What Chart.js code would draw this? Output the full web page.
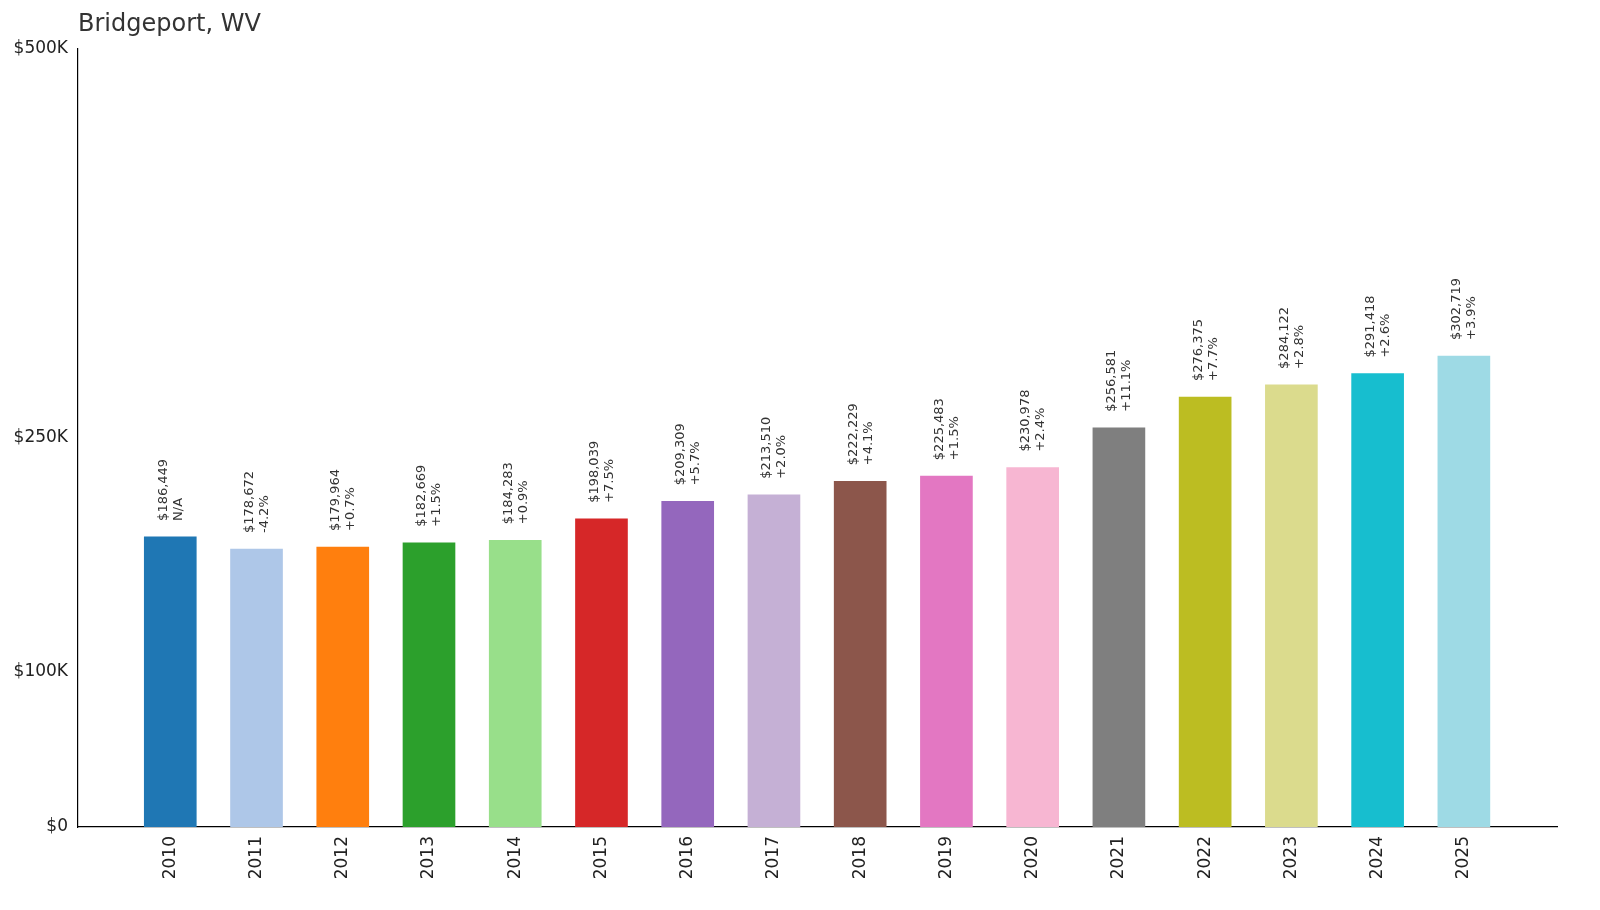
<!DOCTYPE html>
<html><head><meta charset="utf-8">
<script src="https://cdn.jsdelivr.net/npm/chart.js@4"></script>
<style>html,body{margin:0;padding:0;background:#fff}#w{width:1600px;height:910px}</style>
</head><body><div id="w"><canvas id="c"></canvas></div>
<script>
const years=[2010,2011,2012,2013,2014,2015,2016,2017,2018,2019,2020,2021,2022,2023,2024,2025];
const values=[186449,178672,179964,182669,184283,198039,209309,213510,222229,225483,230978,256581,276375,284122,291418,302719];
const changes=["N/A","-4.2%","+0.7%","+1.5%","+0.9%","+7.5%","+5.7%","+2.0%","+4.1%","+1.5%","+2.4%","+11.1%","+7.7%","+2.8%","+2.6%","+3.9%"];
const yTicks=[0,100000,250000,500000];
const yTickLabels=["$0","$100K","$250K","$500K"];
const colors=["#1f77b4","#aec7e8","#ff7f0e","#2ca02c","#98df8a","#d62728","#9467bd","#c5b0d5","#8c564b","#e377c2","#f7b6d2","#7f7f7f","#bcbd22","#dbdb8d","#17becf","#9edae5"];
const FONT="DejaVu Sans";
const labelPlugin={id:'lbl',afterDatasetsDraw(ch){
  const ctx=ch.ctx;const meta=ch.getDatasetMeta(0);
  ctx.save();ctx.fillStyle='#333';ctx.font='13px "'+FONT+'"';ctx.textAlign='left';ctx.textBaseline='middle';
  meta.data.forEach((b,i)=>{
    ctx.save();ctx.translate(b.x,b.y-16);ctx.rotate(-Math.PI/2);
    ctx.fillText('$'+values[i].toLocaleString('en-US'),0,-7);
    ctx.fillText(changes[i],0,8);
    ctx.restore();
  });
  ctx.font='24px "'+FONT+'"';ctx.fillStyle='#333';ctx.textBaseline='alphabetic';
  ctx.fillText('Bridgeport, WV',78,31);
  ctx.restore();
}};
new Chart(document.getElementById('c'),{
  type:'bar',
  data:{datasets:[{data:years.map((y,i)=>({x:y,y:values[i]})),backgroundColor:colors,barThickness:52}]},
  options:{responsive:true,maintainAspectRatio:false,animation:false,
    layout:{padding:{top:49,right:43,left:0,bottom:0}},
    plugins:{legend:{display:false},tooltip:{enabled:false}},
    scales:{
      x:{type:'linear',offset:false,min:2008.93,max:2026.08,
        afterBuildTicks(s){s.ticks=years.map(v=>({value:v}));},
        afterFit(s){s.height=83;},
        grid:{display:false,drawTicks:true,tickLength:6,color:'#000'},
        border:{color:'#000',width:1.2},
        ticks:{autoSkip:false,maxRotation:90,minRotation:90,color:'#222',font:{family:FONT,size:17},callback:v=>String(v)}},
      y:{min:0,max:500000,
        afterBuildTicks(s){s.ticks=yTicks.map(v=>({value:v}));},
        afterFit(s){s.width=78;},
        grid:{display:false,drawTicks:true,tickLength:6},
        border:{color:'#000',width:1.2},
        ticks:{color:'#222',font:{family:FONT,size:17},padding:4,callback:(v)=>yTickLabels[yTicks.indexOf(v)]}}
    }},
  plugins:[labelPlugin]
});
</script></body></html>
